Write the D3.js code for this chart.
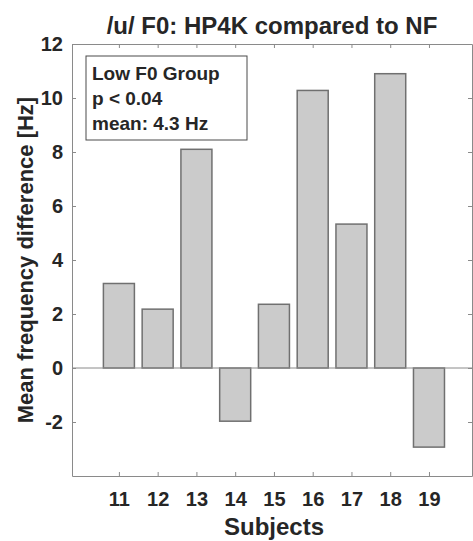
<!DOCTYPE html>
<html lang="en">
<head>
  <meta charset="utf-8">
  <title>/u/ F0: HP4K compared to NF</title>
  <script src="https://d3js.org/d3.v7.min.js"></script>
  <style>
    body {
      margin: 0;
      background: #fff;
    }
    svg text {
      font-family: 'Liberation Sans', Arial, sans-serif;
      font-weight: bold;
      fill: #262626;
    }
    .axis path, .axis line {
      stroke: #8a8a8a;
    }
  </style>
</head>
<body>
  <div id="chart"></div>

  <script>

    // subjects on the x axis
    var subjects = [11, 12, 13, 14, 15, 16, 17, 18, 19];
    // mean F0 difference per subject, Hz
    var diffs = [3.13, 2.18, 8.1, -1.97, 2.36, 10.28, 5.33, 10.9, -2.93];
    var yTicks = [-2, 0, 2, 4, 6, 8, 10, 12];
    var legendLines = ['Low F0 Group', 'p < 0.04', 'mean: 4.3 Hz'];

    var width = 473, height = 541;
    var plot = { left: 72, right: 472, top: 44, bottom: 476 };

    var svg = d3.select('#chart')
      .append('svg')
      .attr('width', width)
      .attr('height', height);

    var x = d3.scaleLinear()
      .domain([9.79, 20.11])
      .range([plot.left, plot.right]);

    var y = d3.scaleLinear()
      .domain([-4, 12])
      .range([plot.bottom, plot.top]);

    var barW = x(0.8) - x(0);

    // y axis, left and right
    svg.append('g')
      .attr('class', 'axis')
      .attr('transform', 'translate(' + plot.left + ',0)')
      .call(d3.axisLeft(y).tickValues(yTicks).tickSize(-4).tickSizeOuter(0).tickPadding(9)
        .tickFormat(function(d) { return String(d); }))
      .call(function(g) { g.selectAll('text').style('font-size', '20px'); });

    svg.append('g')
      .attr('class', 'axis')
      .attr('transform', 'translate(' + plot.right + ',0)')
      .call(d3.axisRight(y).tickValues(yTicks).tickSize(-4).tickSizeOuter(0).tickFormat(''));

    // x axis, bottom and top
    svg.append('g')
      .attr('class', 'axis')
      .attr('transform', 'translate(0,' + plot.bottom + ')')
      .call(d3.axisBottom(x).tickValues(subjects).tickSize(-4).tickSizeOuter(0).tickPadding(16).tickFormat(d3.format('d')))
      .call(function(g) { g.selectAll('text').style('font-size', '20px'); });

    svg.append('g')
      .attr('class', 'axis')
      .attr('transform', 'translate(0,' + plot.top + ')')
      .call(d3.axisTop(x).tickValues(subjects).tickSize(-4).tickSizeOuter(0).tickFormat(''));

    // bars
    svg.selectAll('.bar')
      .data(diffs)
      .enter()
      .append('rect')
      .attr('class', 'bar')
      .attr('x', function(d, i) { return x(subjects[i]) - barW / 2; })
      .attr('y', function(d) { return y(Math.max(0, d)); })
      .attr('width', barW)
      .attr('height', function(d) { return Math.abs(y(d) - y(0)); })
      .attr('fill', '#cbcbcb')
      .attr('stroke', '#707070')
      .attr('stroke-width', 1.5);

    // zero baseline
    svg.append('line')
      .attr('x1', plot.left)
      .attr('x2', plot.right)
      .attr('y1', y(0))
      .attr('y2', y(0))
      .attr('stroke', '#8a8a8a')
      .attr('stroke-width', 1);

    // annotation box
    var box = svg.append('g').attr('transform', 'translate(86,56)');
    box.append('rect')
      .attr('width', 161)
      .attr('height', 84)
      .attr('fill', '#fff')
      .attr('stroke', '#4a4a4a')
      .attr('stroke-width', 1);
    box.selectAll('text')
      .data(legendLines)
      .enter()
      .append('text')
      .attr('x', 6)
      .attr('y', function(d, i) { return 24 + i * 25; })
      .style('font-size', '19px')
      .text(function(d) { return d; });

    // title and axis labels
    svg.append('text')
      .attr('x', 272)
      .attr('y', 34)
      .attr('text-anchor', 'middle')
      .style('font-size', '24px')
      .text('/u/ F0: HP4K compared to NF');

    svg.append('text')
      .attr('x', 274)
      .attr('y', 535)
      .attr('text-anchor', 'middle')
      .style('font-size', '24px')
      .text('Subjects');

    svg.append('text')
      .attr('transform', 'translate(33,' + ((plot.top + plot.bottom) / 2) + ') rotate(-90)')
      .attr('text-anchor', 'middle')
      .style('font-size', '22px')
      .text('Mean frequency difference [Hz]');

  </script>
</body>
</html>
